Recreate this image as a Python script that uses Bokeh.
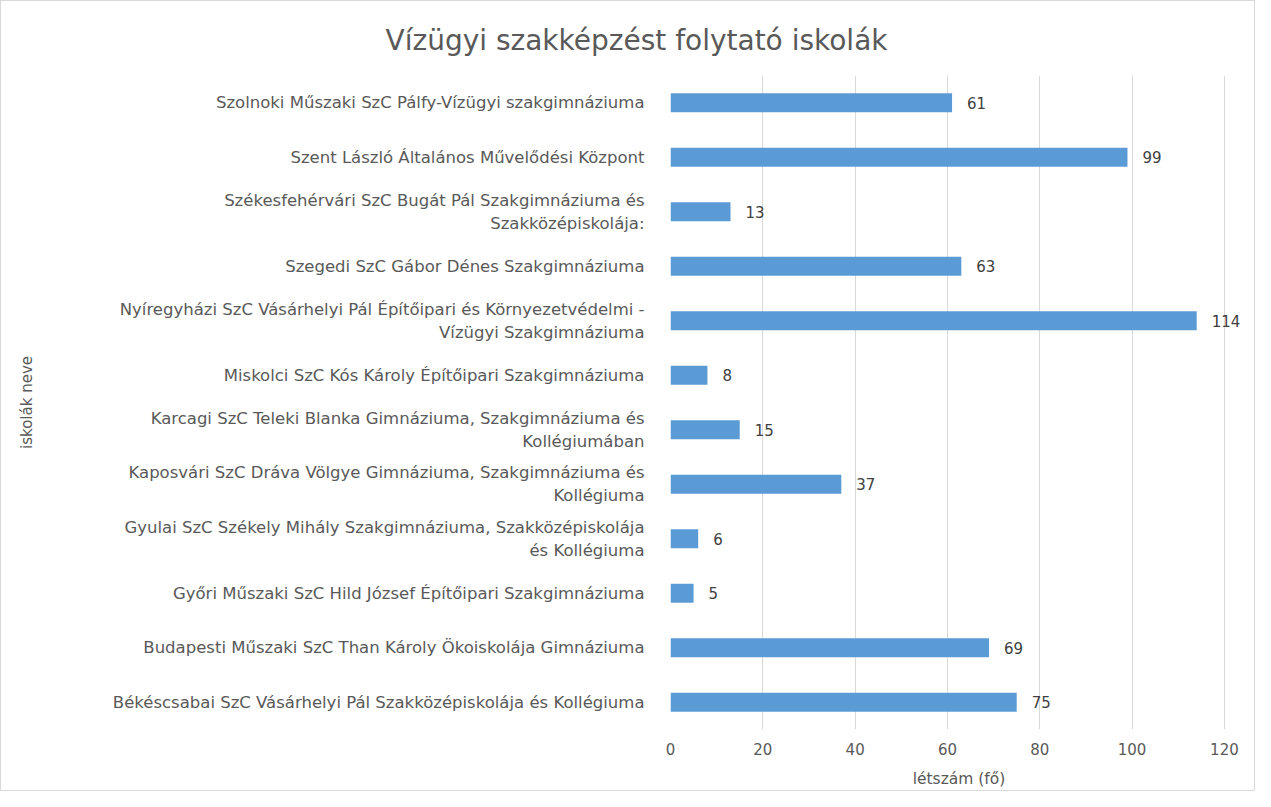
from bokeh.plotting import figure
from bokeh.models import ColumnDataSource, FactorRange, FixedTicker, Range1d, Title
from bokeh.embed import file_html
from bokeh.resources import INLINE
from bokeh.core.properties import value

schools = [
    "Szolnoki Műszaki SzC Pálfy-Vízügyi szakgimnáziuma",
    "Szent László Általános Művelődési Központ",
    "Székesfehérvári SzC Bugát Pál Szakgimnáziuma és\nSzakközépiskolája:",
    "Szegedi SzC Gábor Dénes Szakgimnáziuma",
    "Nyíregyházi SzC Vásárhelyi Pál Építőipari és Környezetvédelmi -\nVízügyi Szakgimnáziuma",
    "Miskolci SzC Kós Károly Építőipari Szakgimnáziuma",
    "Karcagi SzC Teleki Blanka Gimnáziuma, Szakgimnáziuma és\nKollégiumában",
    "Kaposvári SzC Dráva Völgye Gimnáziuma, Szakgimnáziuma és\nKollégiuma",
    "Gyulai SzC Székely Mihály Szakgimnáziuma, Szakközépiskolája\nés Kollégiuma",
    "Győri Műszaki SzC Hild József Építőipari Szakgimnáziuma",
    "Budapesti Műszaki SzC Than Károly Ökoiskolája Gimnáziuma",
    "Békéscsabai SzC Vásárhelyi Pál Szakközépiskolája és Kollégiuma",
]
counts = [61, 99, 13, 63, 114, 8, 15, 37, 6, 5, 69, 75]
x_ticks = [0, 20, 40, 60, 80, 100, 120]

title_text = "Vízügyi szakképzést folytató iskolák"
x_title = "létszám (fő)"
y_title = "iskolák neve"

FONT = "DejaVu Sans"
GRAY = "#595959"

src = ColumnDataSource(dict(school=schools, count=counts,
                            label=[str(c) for c in counts]))

p = figure(width=1255, height=791, output_backend="svg", toolbar_location=None,
           y_range=FactorRange(factors=list(reversed(schools))),
           x_range=Range1d(0, 125),
           min_border_left=669, min_border_right=9,
           min_border_top=74, min_border_bottom=63,
           title=title_text)

p.hbar(y="school", right="count", height=0.35, source=src,
       fill_color="#5B9BD5", line_color=None)
p.text(x="count", y="school", text="label", source=src,
       x_offset=15, text_baseline="middle", text_align="left",
       text_font=value(FONT), text_font_size="15px", text_color="#404040")

p.title.text_font = FONT
p.title.text_font_size = "28px"
p.title.text_font_style = "normal"
p.title.text_color = GRAY
p.title.align = "left"
p.title.offset = -285

# spacer between the title and the plotting frame
p.add_layout(Title(text=" ", text_font_size="11px", standoff=0), "above")

p.outline_line_color = None
p.background_fill_color = "white"
p.border_fill_color = "white"

p.xgrid.ticker = FixedTicker(ticks=x_ticks)
p.xgrid.grid_line_color = "#d9d9d9"
p.xgrid.bounds = (0, 120)
p.ygrid.grid_line_color = None

xa = p.xaxis[0]
xa.ticker = FixedTicker(ticks=x_ticks)
xa.axis_line_color = None
xa.major_tick_line_color = None
xa.minor_tick_line_color = None
xa.major_label_text_font = FONT
xa.major_label_text_font_size = "15px"
xa.major_label_text_color = GRAY
xa.major_label_standoff = 7
xa.axis_label = x_title
xa.axis_label_text_font = FONT
xa.axis_label_text_font_size = "15.5px"
xa.axis_label_text_font_style = "normal"
xa.axis_label_text_color = GRAY
xa.axis_label_standoff = 12

ya = p.yaxis[0]
ya.axis_line_color = None
ya.major_tick_line_color = None
ya.minor_tick_line_color = None
ya.major_label_text_font = FONT
ya.major_label_text_font_size = "16.5px"
ya.major_label_text_color = GRAY
ya.major_label_standoff = 20
ya.axis_label = y_title
ya.axis_label_text_font = FONT
ya.axis_label_text_font_size = "15px"
ya.axis_label_text_font_style = "normal"
ya.axis_label_text_color = GRAY
ya.axis_label_standoff = 74

p.styles = {"border": "1px solid #d9d9d9", "box-sizing": "border-box"}

open("out.html", "w").write(file_html(p, INLINE))
